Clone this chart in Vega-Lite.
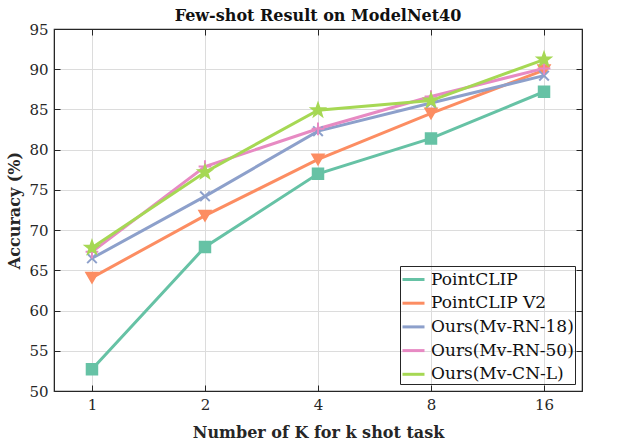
{
  "$schema": "https://vega.github.io/schema/vega-lite/v6.json",
  "width": 528,
  "height": 362,
  "autosize": "none",
  "padding": {"left": 54, "top": 29, "right": 41, "bottom": 53},
  "background": "white",
  "config": {
    "font": "DejaVu Serif",
    "view": {"stroke": "#262626", "strokeWidth": 1.2},
    "axis": {
      "domainColor": "#262626",
      "tickColor": "#262626",
      "gridColor": "#dcdcdc",
      "gridWidth": 1,
      "labelFont": "DejaVu Serif",
      "labelFontSize": 15,
      "labelColor": "#262626",
      "titleFont": "DejaVu Serif",
      "titleFontSize": 16,
      "titleFontWeight": "bold",
      "titleColor": "#262626"
    }
  },
  "title": {
    "text": "Few-shot Result on ModelNet40",
    "font": "DejaVu Serif",
    "fontSize": 16,
    "fontWeight": "bold",
    "color": "#111111",
    "offset": 8,
    "dy": 10
  },
  "data": {
    "values": [
      {"K": 1, "method": "PointCLIP", "acc": 52.7},
      {"K": 2, "method": "PointCLIP", "acc": 67.9},
      {"K": 4, "method": "PointCLIP", "acc": 77.0},
      {"K": 8, "method": "PointCLIP", "acc": 81.4},
      {"K": 16, "method": "PointCLIP", "acc": 87.2},
      {"K": 1, "method": "PointCLIP V2", "acc": 64.1},
      {"K": 2, "method": "PointCLIP V2", "acc": 71.8},
      {"K": 4, "method": "PointCLIP V2", "acc": 78.8},
      {"K": 8, "method": "PointCLIP V2", "acc": 84.5},
      {"K": 16, "method": "PointCLIP V2", "acc": 89.9},
      {"K": 1, "method": "Ours(Mv-RN-18)", "acc": 66.5},
      {"K": 2, "method": "Ours(Mv-RN-18)", "acc": 74.2},
      {"K": 4, "method": "Ours(Mv-RN-18)", "acc": 82.3},
      {"K": 8, "method": "Ours(Mv-RN-18)", "acc": 85.8},
      {"K": 16, "method": "Ours(Mv-RN-18)", "acc": 89.2},
      {"K": 1, "method": "Ours(Mv-RN-50)", "acc": 67.3},
      {"K": 2, "method": "Ours(Mv-RN-50)", "acc": 77.9},
      {"K": 4, "method": "Ours(Mv-RN-50)", "acc": 82.6},
      {"K": 8, "method": "Ours(Mv-RN-50)", "acc": 86.6},
      {"K": 16, "method": "Ours(Mv-RN-50)", "acc": 90.1},
      {"K": 1, "method": "Ours(Mv-CN-L)", "acc": 67.8},
      {"K": 2, "method": "Ours(Mv-CN-L)", "acc": 77.2},
      {"K": 4, "method": "Ours(Mv-CN-L)", "acc": 84.9},
      {"K": 8, "method": "Ours(Mv-CN-L)", "acc": 86.1},
      {"K": 16, "method": "Ours(Mv-CN-L)", "acc": 91.2}
    ]
  },
  "layer": [
    {
      "mark": {"type": "line", "strokeWidth": 3},
      "encoding": {
        "x": {
          "field": "K", "type": "ordinal",
          "scale": {"type": "point", "padding": 0.336},
          "axis": {"title": "Number of K for k shot task", "labelAngle": 0, "tickSize": -6, "labelPadding": 12, "titlePadding": 12, "grid": true}
        },
        "y": {
          "field": "acc", "type": "quantitative",
          "scale": {"domain": [50, 95], "nice": false, "zero": false},
          "axis": {"title": "Accuracy (%)", "values": [50, 55, 60, 65, 70, 75, 80, 85, 90, 95], "tickSize": -6, "labelPadding": 12, "titlePadding": 6, "grid": true}
        },
        "color": {
          "field": "method", "type": "nominal",
          "sort": ["PointCLIP", "PointCLIP V2", "Ours(Mv-RN-18)", "Ours(Mv-RN-50)", "Ours(Mv-CN-L)"],
          "scale": {"range": ["#66c2a5", "#fc8d62", "#8da0cb", "#e78ac3", "#a6d854"]},
          "legend": {
            "title": null,
            "orient": "bottom-right",
            "offset": 7,
            "strokeColor": "#262626",
            "fillColor": "transparent",
            "padding": 1,
            "rowPadding": 2.7,
            "labelFont": "DejaVu Serif",
            "labelFontSize": 17,
            "labelColor": "#111111",
            "labelOffset": 5,
            "symbolType": "stroke",
            "symbolSize": 484,
            "symbolStrokeWidth": 3
          }
        }
      }
    },
    {
      "mark": {"type": "point", "filled": true, "opacity": 1, "strokeWidth": 2},
      "encoding": {
        "x": {
          "field": "K", "type": "ordinal",
          "axis": {"orient": "top", "labels": false, "title": null, "tickSize": -6, "grid": false}
        },
        "y": {
          "field": "acc", "type": "quantitative",
          "axis": {"orient": "right", "labels": false, "title": null, "values": [50, 55, 60, 65, 70, 75, 80, 85, 90, 95], "tickSize": -6, "grid": false}
        },
        "fill": {
          "field": "method", "type": "nominal",
          "scale": {
            "domain": ["PointCLIP", "PointCLIP V2", "Ours(Mv-RN-18)", "Ours(Mv-RN-50)", "Ours(Mv-CN-L)"],
            "range": ["#66c2a5", "#fc8d62", "#8da0cb", "#e78ac3", "#a6d854"]
          },
          "legend": {
            "title": null, "orient": "none", "legendX": 346, "legendY": 232,
            "strokeColor": "transparent", "fillColor": "white", "padding": 4, "rowPadding": 7.7,
            "labelFont": "DejaVu Serif", "labelFontSize": 17, "labelColor": "transparent", "labelOffset": 5.5,
            "symbolStrokeWidth": 2
          }
        },
        "stroke": {
          "field": "method", "type": "nominal",
          "scale": {
            "domain": ["PointCLIP", "PointCLIP V2", "Ours(Mv-RN-18)", "Ours(Mv-RN-50)", "Ours(Mv-CN-L)"],
            "range": ["#66c2a5", "#fc8d62", "#8da0cb", "#e78ac3", "#a6d854"]
          },
          "legend": {
            "title": null, "orient": "none", "legendX": 346, "legendY": 232,
            "strokeColor": "transparent", "fillColor": "white", "padding": 4, "rowPadding": 7.7,
            "labelFont": "DejaVu Serif", "labelFontSize": 17, "labelColor": "transparent", "labelOffset": 5.5,
            "symbolStrokeWidth": 2
          }
        },
        "shape": {
          "field": "method", "type": "nominal",
          "scale": {
            "domain": ["PointCLIP", "PointCLIP V2", "Ours(Mv-RN-18)", "Ours(Mv-RN-50)", "Ours(Mv-CN-L)"],
            "range": [
              "square",
              "triangle-down",
              "M-0.8,-0.8L0.8,0.8M0.8,-0.8L-0.8,0.8",
              "M-1,0L1,0M0,-1L0,1",
              "M0,-1L0.235,-0.324L0.951,-0.309L0.38,0.124L0.588,0.809L0,0.4L-0.588,0.809L-0.38,0.124L-0.951,-0.309L-0.235,-0.324Z"
            ]
          },
          "legend": {
            "title": null, "orient": "none", "legendX": 346, "legendY": 232,
            "strokeColor": "transparent", "fillColor": "white", "padding": 4, "rowPadding": 7.7,
            "labelFont": "DejaVu Serif", "labelFontSize": 17, "labelColor": "transparent", "labelOffset": 5.5,
            "symbolStrokeWidth": 2
          }
        },
        "size": {
          "field": "method", "type": "nominal",
          "scale": {
            "domain": ["PointCLIP", "PointCLIP V2", "Ours(Mv-RN-18)", "Ours(Mv-RN-50)", "Ours(Mv-CN-L)"],
            "range": [110, 180, 100, 130, 250]
          },
          "legend": null
        }
      }
    }
  ],
  "resolve": {"axis": {"x": "independent", "y": "independent"}}
}
